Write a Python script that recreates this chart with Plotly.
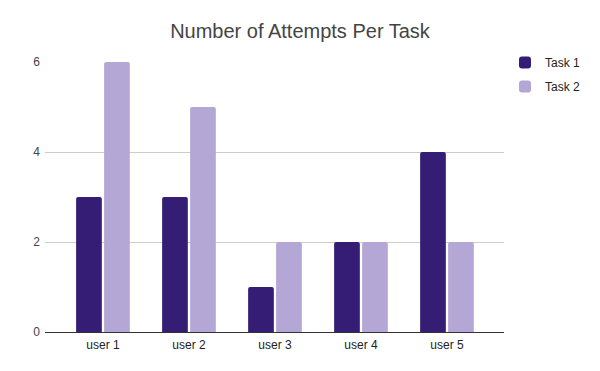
import plotly.graph_objects as go

categories = ["user 1", "user 2", "user 3", "user 4", "user 5"]
task1 = [3, 3, 1, 2, 4]
task2 = [6, 5, 2, 2, 2]
series_names = ["Task 1", "Task 2"]
colors = ["#351c75", "#b4a7d6"]
y_ticks = [0, 2, 4, 6]

fig = go.Figure()
for name, vals, col in zip(series_names, [task1, task2], colors):
    fig.add_trace(go.Bar(
        x=categories, y=vals, name=name, legendgroup=name,
        marker=dict(color=col, cornerradius=2, line=dict(width=0)),
        hoverinfo="x+y+name",
    ))

font_family = "Arial, 'Liberation Sans', sans-serif"
fig.update_layout(
    width=600, height=371,
    paper_bgcolor="white", plot_bgcolor="white",
    margin=dict(l=45, r=96, t=62, b=39, autoexpand=False),
    barmode="group", bargap=0.349, bargroupgap=0.082,
    title=dict(text="Number of Attempts Per Task", x=0.5, xanchor="center",
               y=1 - 31/371, yanchor="middle",
               font=dict(family=font_family, size=20, color="#444444")),
    font=dict(family=font_family, size=12, color="#222222"),
    legend=dict(x=1.0 + (505 - 504) / 459, xanchor="left", y=1.052, yanchor="top",
                font=dict(family=font_family, size=12, color="#222222"),
                tracegroupgap=5, bgcolor="rgba(0,0,0,0)"),
    showlegend=True,
)
fig.update_xaxes(type="category", range=[-0.674, 4.663], showgrid=False,
                 showline=True, linecolor="#333333", linewidth=1, ticks="",
                 ticklabelstandoff=2,
                 tickfont=dict(size=12, color="#222222"), fixedrange=True)
fig.update_yaxes(range=[0, 6.0], tickvals=y_ticks, showgrid=True, gridcolor="#cccccc",
                 gridwidth=1, zeroline=True, zerolinecolor="#333333", zerolinewidth=1,
                 showline=False, ticks="", tickfont=dict(size=12, color="#444444"),
                 ticklabelstandoff=4, fixedrange=True)

fig.write_html("out.html", config={"displayModeBar": False},
               post_script="document.body.style.margin='0';")
